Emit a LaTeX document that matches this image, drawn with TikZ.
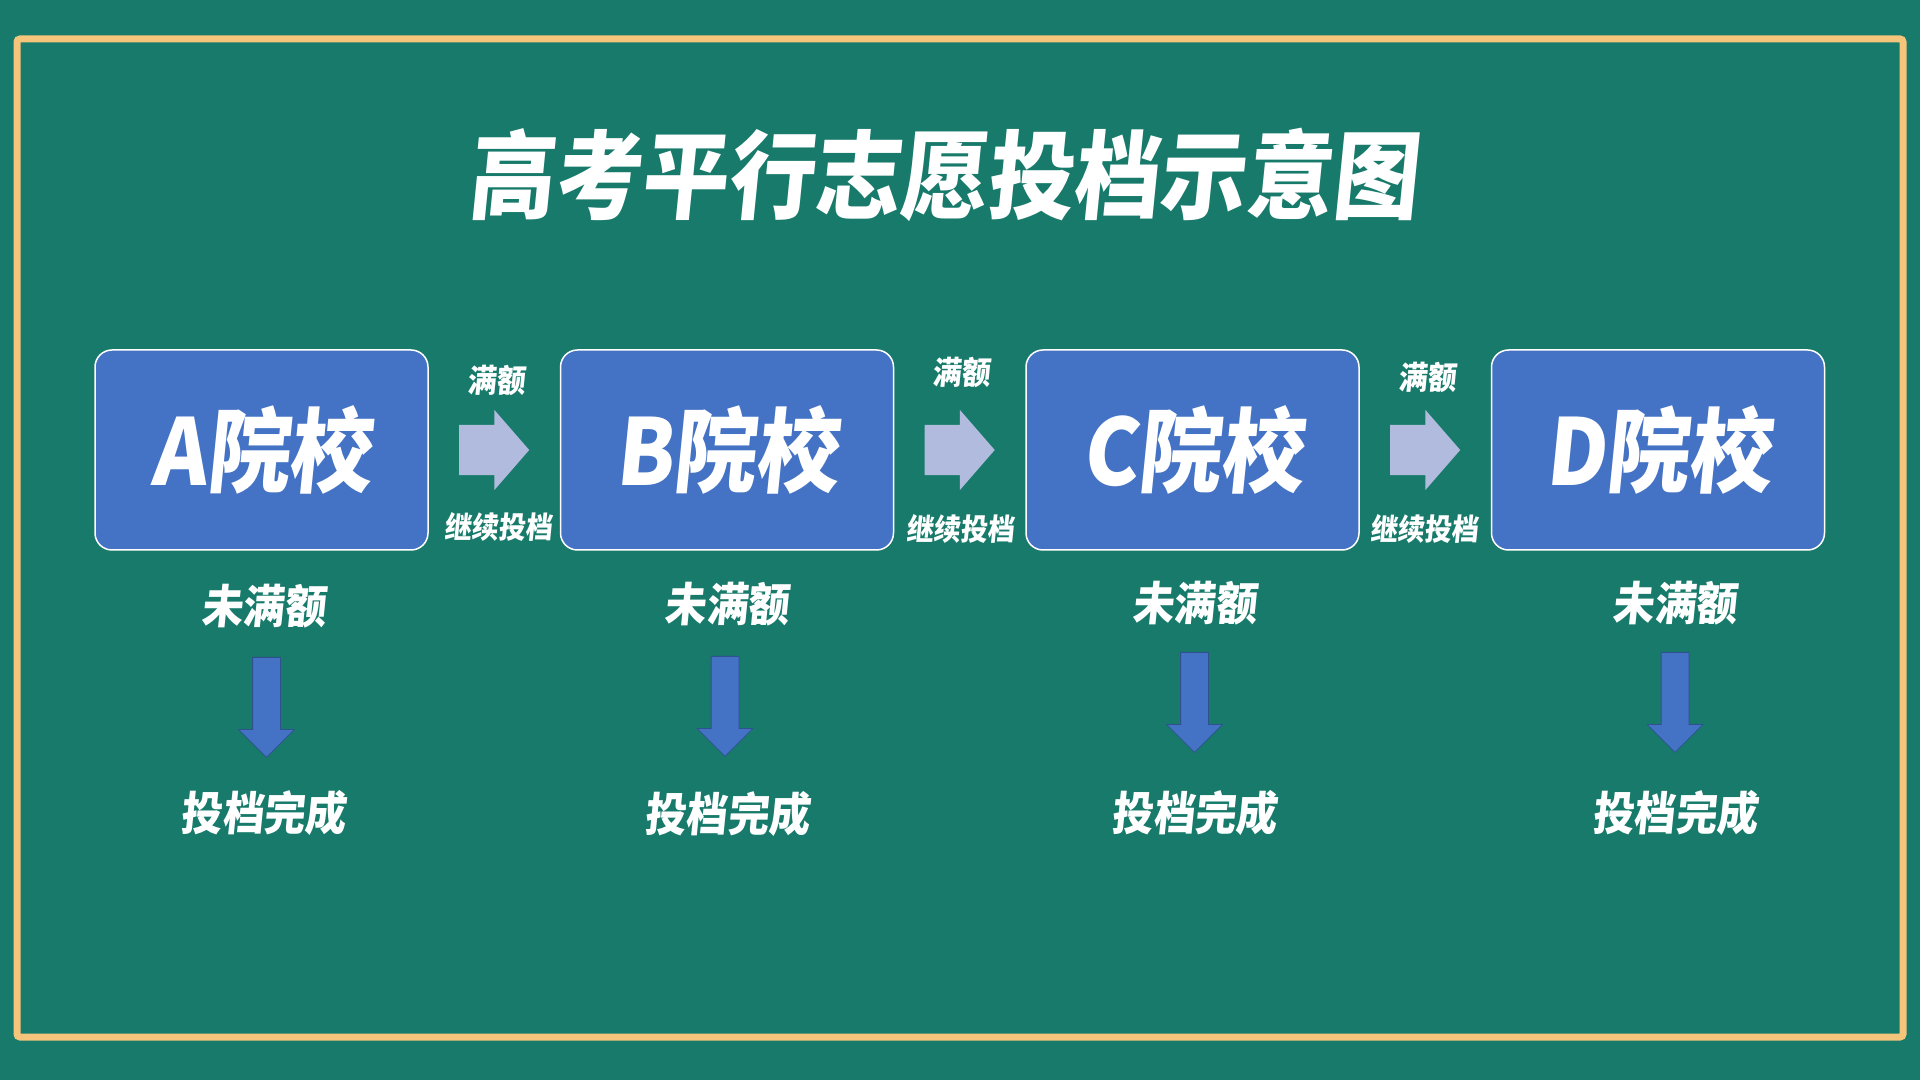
\documentclass[tikz,border=0pt]{standalone}
\usepackage{fontspec}
\usepackage{tikz}
\usetikzlibrary{positioning, calc, shapes.arrows}
\newfontfamily\cjk[FakeSlant=0.1, FakeStretch=0.9]{Noto Sans CJK SC}
\definecolor{boardgreen}{HTML}{177A6A}
\definecolor{chalkframe}{HTML}{F5C57C}
\definecolor{schoolblue}{HTML}{4472C4}
\definecolor{arrowlilac}{HTML}{B0BBDE}
\definecolor{arrowedge}{HTML}{2F528F}

\begin{document}
\begin{tikzpicture}[
    x=1pt, y=1pt,
    node distance=132.5pt,
    school/.style={rectangle, rounded corners=17pt, draw=white, line width=1.5pt, fill=schoolblue, minimum width=333pt, minimum height=200pt, outer sep=0pt, text=white, font=\cjk\bfseries\fontsize{92}{92}\selectfont},
    headline/.style={text=white, inner sep=0pt, font=\cjk\bfseries\fontsize{96}{96}\selectfont},
    pass/.style={single arrow, fill=arrowlilac, minimum height=70pt, inner xsep=0pt, inner ysep=25pt, single arrow head extend=15pt, single arrow tip angle=98, outer sep=0pt},
    drop/.style={single arrow, rotate=-90, fill=schoolblue, draw=arrowedge, line width=0.8pt, minimum height=100pt, inner xsep=0pt, inner ysep=13.5pt, single arrow head extend=14pt, single arrow tip angle=90, outer sep=0pt},
    quota/.style={text=white, inner sep=0pt, font=\cjk\bfseries\fontsize{32}{32}\selectfont},
    goon/.style={text=white, inner sep=0pt, font=\cjk\bfseries\fontsize{30}{30}\selectfont},
    note/.style={text=white, inner sep=0pt, font=\cjk\bfseries\fontsize{46}{46}\selectfont}
]

% Board
\fill[boardgreen] (0,0) rectangle (1920,1080);
\useasboundingbox (0,0) rectangle (1920,1080);
\draw[chalkframe, line width=7pt, rounded corners=3pt] (17,1041) rectangle (1903,43);

% Title
\node[headline] (title) at (943,905) {高考平行志愿投档示意图};

% Schools
\node[school] (a) at (261.5,630) {A院校};
\node[school, right=of a] (b) {B院校};
\node[school, right=of b] (c) {C院校};
\node[school, right=of c] (d) {D院校};

% Full quota arrows
\node[pass, xshift=-11pt] (ab) at ($(a.east)!0.5!(b.west)$) {};
\node[pass, xshift=-11pt] (bc) at ($(b.east)!0.5!(c.west)$) {};
\node[pass, xshift=-11pt] (cd) at ($(c.east)!0.5!(d.west)$) {};
\node[quota, above=29pt of ab.north -| ab.tip, xshift=-33pt] (ab1) {满额};
\node[quota, above=37pt of bc.north -| bc.tip, xshift=-33pt] (bc1) {满额};
\node[quota, above=32pt of cd.north -| cd.tip, xshift=-33pt] (cd1) {满额};
\node[goon, below=37pt of ab.south -| ab.tip, xshift=-31pt] (ab2) {继续投档};
\node[goon, below=39pt of bc.south -| bc.tip, xshift=-34pt] (bc2) {继续投档};
\node[goon, below=39pt of cd.south -| cd.tip, xshift=-36pt] (cd2) {继续投档};

% Not full
\node[note, below=34pt of a, xshift=2pt] (a1) {未满额};
\node[note, below=32pt of b, xshift=0pt] (b1) {未满额};
\node[note, below=31pt of c, xshift=2pt] (c1) {未满额};
\node[note, below=31pt of d, xshift=17pt] (d1) {未满额};

\node[drop] (a2) at ($(a1.south)+(3,-72)$) {};
\node[drop] (b2) at ($(b1.south)+(-2,-73)$) {};
\node[drop] (c2) at ($(c1.south)+(0,-70)$) {};
\node[drop] (d2) at ($(d1.south)+(0,-70)$) {};

\node[note, anchor=north] (a3) at ($(a2.tip)+(-3,-33)$) {投档完成};
\node[note, anchor=north] (b3) at ($(b2.tip)+(2,-35)$) {投档完成};
\node[note, anchor=north] (c3) at ($(c2.tip)+(0,-38)$) {投档完成};
\node[note, anchor=north] (d3) at ($(d2.tip)+(0,-38)$) {投档完成};

\end{tikzpicture}
\end{document}
